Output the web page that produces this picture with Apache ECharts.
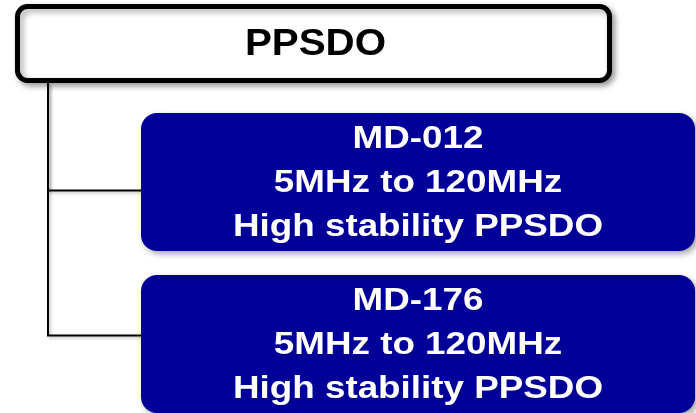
<!DOCTYPE html>
<html>
<head>
<meta charset="utf-8">
<script src="https://cdn.jsdelivr.net/npm/echarts@6/dist/echarts.min.js"></script>
<style>
  html, body { margin: 0; padding: 0; background: #ffffff; }
  #chart { width: 696px; height: 413px; }
</style>
</head>
<body>
<div id="chart"></div>
<script>
// ---- Diagram data ----
const nodeLabels = [
  'PPSDO',
  'MD-012\n5MHz to 120MHz\nHigh stability PPSDO',
  'MD-176\n5MHz to 120MHz\nHigh stability PPSDO'
];
const nodeLevels = [0, 1, 1];
const nodeRows = [0, 1, 2];
const nodeParents = [-1, 0, 0];

// ---- Styles ----
const FONT = 'Liberation Sans, Arial, Helvetica, sans-serif';
const BLUE = '#000099';
const SHADOW = { shadowBlur: 6, shadowOffsetX: 3, shadowOffsetY: 3, shadowColor: 'rgba(0,0,0,0.35)' };
const LINE_SHADOW = { shadowBlur: 3, shadowOffsetX: 2, shadowOffsetY: 2, shadowColor: 'rgba(0,0,0,0.25)' };
const HEADER = { w: 592, h: 74, dx: 2.5, dy: 23.5, radius: 10, border: 5 };
const CHILD = { w: 554, h: 138, radius: 16 };
const TRUNK_DX = 33;
const CONNECTOR_OFFSET = [0, 8.5, -8.5];

const chart = echarts.init(document.getElementById('chart'), null, { renderer: 'canvas' });

const seriesData = nodeLabels.map((label, i) => ({
  name: label,
  value: [nodeLevels[i], nodeRows[i], i]
}));

function renderItem(params, api) {
  const idx = api.value(2);
  const level = api.value(0);
  const row = api.value(1);
  const p = api.coord([level, row]);
  const x = p[0], yc = p[1];
  const children = [];
  if (level === 0) {
    const cy = yc + HEADER.dy;
    children.push({
      type: 'rect',
      shape: { x: x + HEADER.dx, y: cy - HEADER.h / 2, width: HEADER.w, height: HEADER.h, r: HEADER.radius },
      style: Object.assign({ fill: '#ffffff', stroke: '#000000', lineWidth: HEADER.border }, SHADOW),
      z2: 5
    });
    children.push({
      type: 'text',
      x: x + HEADER.dx + HEADER.w / 2 + 2, y: cy + 2,
      scaleX: 1.12,
      style: { text: nodeLabels[idx], fill: '#000000', font: 'bold 36px ' + FONT, align: 'center', verticalAlign: 'middle' },
      z2: 10
    });
  } else {
    const par = nodeParents[idx];
    const pp = api.coord([nodeLevels[par], nodeRows[par]]);
    const trunkX = pp[0] + TRUNK_DX;
    const parentBottom = pp[1] + HEADER.dy + HEADER.h / 2 + HEADER.border / 2;
    const connY = yc + CONNECTOR_OFFSET[idx];
    children.push({
      type: 'polyline',
      shape: { points: [[trunkX, parentBottom], [trunkX, connY], [x, connY]] },
      style: Object.assign({ stroke: '#000000', lineWidth: 2, fill: null }, LINE_SHADOW),
      z2: 1
    });
    children.push({
      type: 'rect',
      shape: { x: x, y: yc - CHILD.h / 2, width: CHILD.w, height: CHILD.h, r: CHILD.radius },
      style: Object.assign({ fill: BLUE }, SHADOW),
      z2: 5
    });
    children.push({
      type: 'text',
      x: x + CHILD.w / 2, y: yc + 1,
      scaleX: 1.15,
      style: { text: nodeLabels[idx], fill: '#ffffff', font: 'bold 32px ' + FONT, lineHeight: 44, align: 'center', verticalAlign: 'middle' },
      z2: 10
    });
  }
  return { type: 'group', children: children };
}

chart.setOption({
  animation: false,
  backgroundColor: '#ffffff',
  grid: { left: 0, right: 0, top: 0, bottom: 0 },
  xAxis: { type: 'value', min: -15 / 126, max: 681 / 126, show: false },
  yAxis: { type: 'value', inverse: true, min: -20 / 162, max: 393 / 162, show: false },
  series: [{
    type: 'custom',
    renderItem: renderItem,
    clip: false,
    data: seriesData
  }]
});
</script>
</body>
</html>
